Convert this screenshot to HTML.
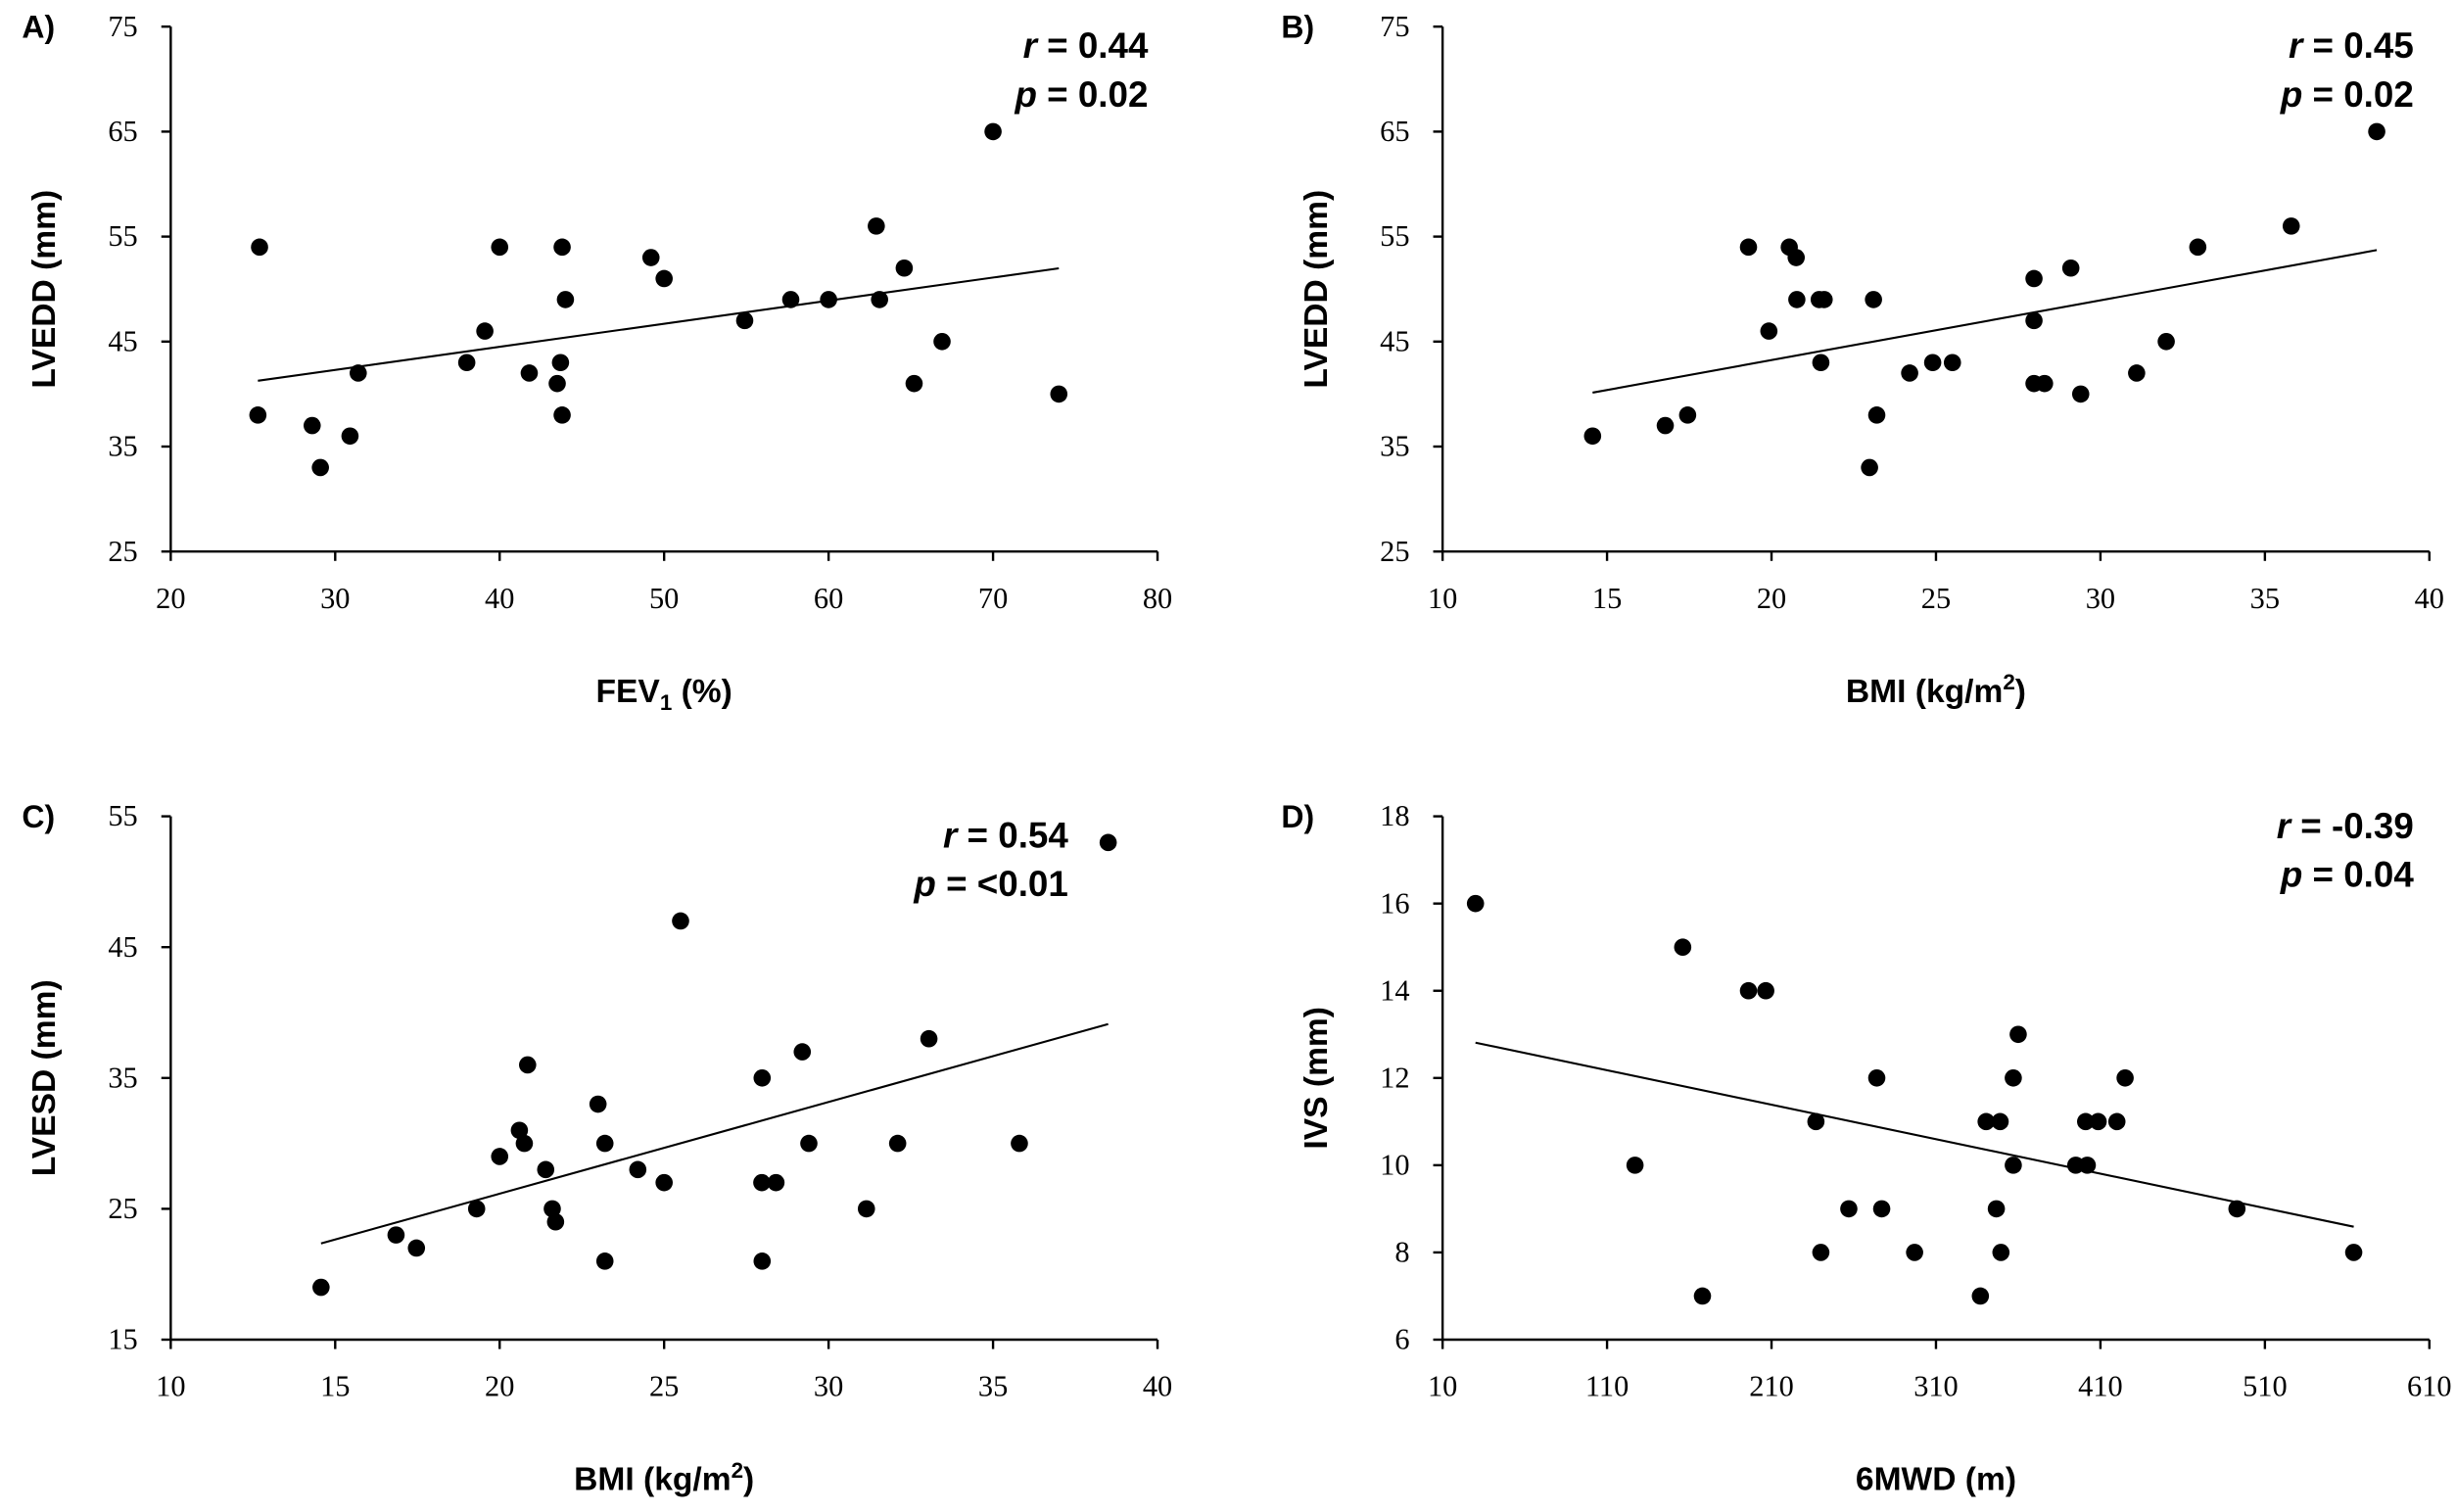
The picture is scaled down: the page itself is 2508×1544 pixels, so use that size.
<!DOCTYPE html>
<html><head><meta charset="utf-8"><style>
html,body{margin:0;padding:0;background:#fff;}
svg{display:block;}
.tick{font-family:"Liberation Serif",serif;font-size:19px;fill:#000;}
.title{font-family:"Liberation Sans",sans-serif;font-weight:bold;font-size:21px;fill:#000;}
.plab{font-family:"Liberation Sans",sans-serif;font-weight:bold;font-size:20px;fill:#000;}
.stat{font-family:"Liberation Sans",sans-serif;font-weight:bold;font-size:23px;fill:#000;}
</style></head><body>
<svg id="fig" width="2508" height="1544" viewBox="0 0 1568 965" preserveAspectRatio="none" xmlns="http://www.w3.org/2000/svg"></svg>
<script>
// Panel A: FEV1 vs LVEDD
const aX=[25.4,25.3,28.6,29.1,30.9,31.4,38.0,39.1,40.0,41.8,43.7,43.5,43.8,44.0,43.8,49.2,50.0,54.9,57.7,60.0,63.1,62.9,64.6,66.9,65.2,70.0,74.0];
const aY=[54,38,37,33,36,42,43,46,54,42,43,41,54,49,38,53,51,47,49,49,49,56,52,45,41,65,40];
// Panel B: BMI vs LVEDD
const bX=[14.56,16.77,17.45,19.3,19.92,20.54,20.75,20.77,21.45,21.6,21.5,22.98,23.1,23.2,24.2,24.9,25.5,27.98,27.98,27.98,28.3,29.1,29.4,31.1,32.0,32.96,35.8,38.4];
const bY=[36,37,38,54,46,54,53,49,49,49,43,33,49,38,42,43,43,51,47,41,41,52,40,42,45,54,56,65];
// Panel C: BMI vs LVESD
const cX=[14.57,16.85,17.47,19.3,20.0,20.6,20.75,20.85,21.4,21.6,21.7,22.99,23.2,23.2,24.2,25.0,25.5,27.98,29.2,27.97,28.4,27.98,29.4,31.15,32.1,33.05,35.8,38.5];
const cY=[19,23,22,25,29,31,30,36,28,25,24,33,30,21,28,27,47,35,37,27,27,21,30,25,30,38,30,53];
// Panel D: 6MWD vs IVS
const dX=[30,156,196,206.5,274,237,127,257,277,240,297,168,360,357,425,340.5,349,401,408.6,420,357,395,402,346.7,493,349.5,337,564];
const dY=[16,15,14,14,12,11,10,9,9,8,8,7,13,12,12,11,11,11,11,11,10,10,10,9,9,8,7,8];
// Tick labels
const ticksAx=[20,30,40,50,60,70,80];
const ticksBMI=[10,15,20,25,30,35,40];
const ticksLVEDD=[25,35,45,55,65,75];
const ticksLVESD=[15,25,35,45,55];
const ticksD_x=[10,110,210,310,410,510,610];
const ticksD_y=[6,8,10,12,14,16,18];
const panelLetters=["A)","B)","C)","D)"];
const statR=["0.44","0.45","0.54","-0.39"];
const statP=["0.02","0.02","<0.01","0.04"];

const NS="http://www.w3.org/2000/svg";
const svg=document.getElementById('fig');
function mk(tag,attrs,parent){const e=document.createElementNS(NS,tag);for(const k in attrs)e.setAttribute(k,attrs[k]);(parent||svg).appendChild(e);return e;}

function panel(cfg){
  const g=mk('g',{});
  
  
  const {x0,x1,y0,y1,xmin,xmax,ymin,ymax}=cfg;
  const sx=v=>x0+(v-xmin)/(xmax-xmin)*(x1-x0);
  const sy=v=>y0-(v-ymin)/(ymax-ymin)*(y0-y1);
  const ya=mk('line',{x1:x0,y1:y1,x2:x0,y2:y0,stroke:'#000','stroke-width':1.5},g);
  
  
  const xa=mk('line',{x1:x0,y1:y0,x2:x1,y2:y0,stroke:'#000','stroke-width':1.5},g);
  
  
  cfg.xt.forEach(v=>{
    const X=sx(v);
    mk('line',{x1:X,y1:y0,x2:X,y2:y0+6,stroke:'#000','stroke-width':1.5},g);
    const t=mk('text',{x:X,y:y0+36,'text-anchor':'middle',class:'tick'},g);
    t.textContent=v;
    
    
  });
  cfg.yt.forEach(v=>{
    const Y=sy(v);
    mk('line',{x1:x0-6,y1:Y,x2:x0,y2:Y,stroke:'#000','stroke-width':1.5},g);
    const t=mk('text',{x:x0-21,y:Y+6,'text-anchor':'end',class:'tick'},g);
    t.textContent=v;
    
    
  });
  const xs=cfg.X, ys=cfg.Y, n=xs.length;
  let mx=0,my=0;for(let i=0;i<n;i++){mx+=xs[i];my+=ys[i];}mx/=n;my/=n;
  let sxy=0,sxx=0;for(let i=0;i<n;i++){sxy+=(xs[i]-mx)*(ys[i]-my);sxx+=(xs[i]-mx)**2;}
  const b=sxy/sxx,a=my-b*mx;
  const lo=Math.min(...xs),hi=Math.max(...xs);
  const rl=mk('line',{x1:sx(lo),y1:sy(a+b*lo),x2:sx(hi),y2:sy(a+b*hi),stroke:'#000','stroke-width':1.3},g);
  
  
  for(let i=0;i<n;i++){
    const c=mk('circle',{cx:sx(xs[i]),cy:sy(ys[i]),r:5.5,fill:'#000'},g);
    
    
  }
  const pl=mk('text',{x:cfg.lx,y:y1+7,class:'plab'},g);
  pl.textContent=cfg.letter;
  
  
  const yt=mk('text',{x:0,y:0,class:'title','text-anchor':'middle',transform:`translate(${x0-74},${(y0+y1)/2}) rotate(-90)`},g);
  yt.textContent=cfg.ytitle;
  
  
  const xt=mk('text',{x:(x0+x1)/2,y:y0+96,class:'title','text-anchor':'middle'},g);
  xt.innerHTML=cfg.xtitle;
  
  
  const r=mk('text',{x:cfg.sxr,y:cfg.sy1,class:'stat','text-anchor':'end'},g);
  r.innerHTML='<tspan font-style="italic">r</tspan> = '+cfg.r;
  
  
  const p=mk('text',{x:cfg.sxr,y:cfg.sy1+31,class:'stat','text-anchor':'end'},g);
  p.innerHTML='<tspan font-style="italic">p</tspan> = '+cfg.p;
  
  
}
panel({name:'panel-a',letter:panelLetters[0],x0:109,x1:739,y0:352,y1:17,xmin:20,xmax:80,ymin:25,ymax:75,xt:ticksAx,yt:ticksLVEDD,X:aX,Y:aY,lx:14,ytitle:'LVEDD (mm)',xtitle:'FEV<tspan font-size="14" dy="5">1</tspan><tspan dy="-5"> (%)</tspan>',r:statR[0],p:statP[0],sxr:733,sy1:37});
panel({name:'panel-b',letter:panelLetters[1],x0:921,x1:1551,y0:352,y1:17,xmin:10,xmax:40,ymin:25,ymax:75,xt:ticksBMI,yt:ticksLVEDD,X:bX,Y:bY,lx:818,ytitle:'LVEDD (mm)',xtitle:'BMI (kg/m<tspan font-size="14" dy="-8">2</tspan><tspan dy="8">)</tspan>',r:statR[1],p:statP[1],sxr:1541,sy1:37});
panel({name:'panel-c',letter:panelLetters[2],x0:109,x1:739,y0:855,y1:521,xmin:10,xmax:40,ymin:15,ymax:55,xt:ticksBMI,yt:ticksLVESD,X:cX,Y:cY,lx:14,ytitle:'LVESD (mm)',xtitle:'BMI (kg/m<tspan font-size="14" dy="-8">2</tspan><tspan dy="8">)</tspan>',r:statR[2],p:statP[2],sxr:682,sy1:541});
panel({name:'panel-d',letter:panelLetters[3],x0:921,x1:1551,y0:855,y1:521,xmin:10,xmax:610,ymin:6,ymax:18,xt:ticksD_x,yt:ticksD_y,X:dX,Y:dY,lx:818,ytitle:'IVS (mm)',xtitle:'6MWD (m)',r:statR[3],p:statP[3],sxr:1541,sy1:535});
</script>
</body></html>
